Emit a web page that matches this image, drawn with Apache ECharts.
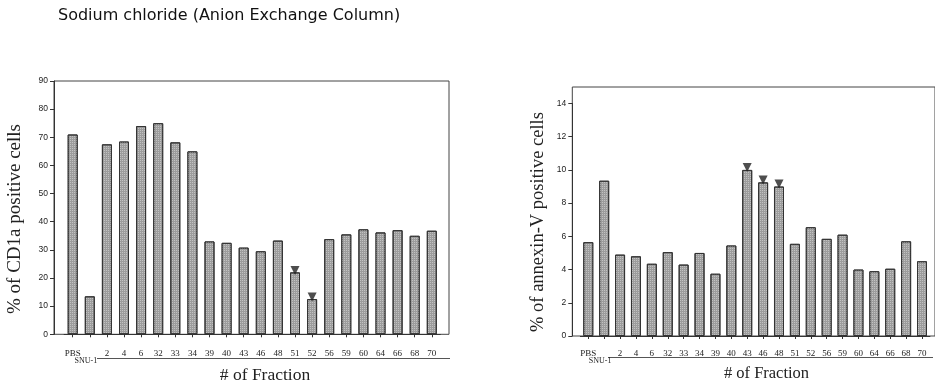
<!DOCTYPE html>
<html>
<head>
<meta charset="utf-8">
<script src="https://cdn.jsdelivr.net/npm/echarts@6/dist/echarts.min.js"></script>
<style>
html,body{margin:0;padding:0;background:#fff;}
#c{width:935px;height:385px;}
</style>
</head>
<body>
<div id="c"></div>
<script>
// ---- data ----
const categories = ['PBS','SNU-1','2','4','6','32','33','34','39','40','43','46','48','51','52','56','59','60','64','66','68','70'];
const cd1aValues = [71,13.5,67.5,68.5,74,75,68.2,65,33,32.5,30.8,29.5,33.3,22,12.5,33.8,35.5,37.3,36.2,37,35,36.8];
const annexinValues = [5.65,9.35,4.9,4.8,4.35,5.05,4.3,5.0,3.75,5.45,10.0,9.25,9.0,5.55,6.55,5.85,6.1,4.0,3.9,4.05,5.7,4.5];
const cd1aMarked = ['51','52'];
const annexinMarked = ['43','46','48'];
const cd1aAxis = {min:0, max:90, interval:10};
const annexinAxis = {min:0, max:14, interval:2};
const titleText = 'Sodium chloride (Anion Exchange Column)';
const cd1aName = '% of CD1a positive cells';
const annexinName = '% of annexin-V positive cells';
const xName = '# of Fraction';

// ---- build ----
const chart = echarts.init(document.getElementById('c'), null, {renderer:'canvas'});
const serif = 'Liberation Serif';
const barStyle = {
  color:'#9c9c9c',
  borderColor:'#333',
  borderWidth:1,
  decal:{symbol:'rect', symbolSize:1, dashArrayX:[1,1], dashArrayY:[1,1], color:'rgba(225,225,225,0.55)', rotation:0}
};
function markerData(values, marked){
  return categories.map((c,i)=> marked.indexOf(c)>=0 ? values[i] : '-');
}
function xAxisCfg(gi, margin){
  return {
    gridIndex:gi, type:'category', data:categories,
    axisLine:{show:true, lineStyle:{color:'#333', width:1}},
    axisTick:{show:true, alignWithLabel:true, length:3, lineStyle:{color:'#333'}},
    axisLabel:{
      margin:margin, fontFamily:serif, fontSize:9, color:'#222', interval:0,
      formatter:function(v){ return v==='SNU-1' ? '{s|'+v+'}' : v; },
      rich:{s:{fontFamily:serif, fontSize:8, color:'#222', padding:[8,8,0,0]}}
    }
  };
}
function yAxisCfg(gi, cfg, offset){
  return {
    gridIndex:gi, type:'value', min:cfg.min, max:cfg.max, interval:cfg.interval, offset:offset,
    splitLine:{show:false},
    axisLine:{show:true, lineStyle:{color:'#333'}},
    axisTick:{show:true, length:4, lineStyle:{color:'#333'}},
    axisLabel:{fontFamily:'Liberation Sans', fontSize:8.5, color:'#222', margin:6}
  };
}
const option = {
  animation:false,
  backgroundColor:'#fff',
  grid:[
    {left:64.15, top:81, width:376.2, height:253.3, show:false},
    {left:54, top:81, width:395, height:253.3, show:true, borderColor:'#444', borderWidth:1, backgroundColor:'transparent'},
    {left:580.35, top:103.5, width:349.6, height:232.5, show:false},
    {left:572.3, top:87, width:364, height:249, show:true, borderColor:'#444', borderWidth:1, backgroundColor:'transparent'}
  ],
  xAxis:[
    xAxisCfg(0, 14.5),
    {gridIndex:1, type:'value', show:false},
    xAxisCfg(2, 12.8),
    {gridIndex:3, type:'value', show:false}
  ],
  yAxis:[
    yAxisCfg(0, cd1aAxis, 10.15),
    {gridIndex:1, type:'value', show:false},
    yAxisCfg(2, annexinAxis, 8.05),
    {gridIndex:3, type:'value', show:false}
  ],
  series:[
    {type:'bar', xAxisIndex:0, yAxisIndex:0, data:cd1aValues, barWidth:10, itemStyle:barStyle},
    {type:'scatter', xAxisIndex:0, yAxisIndex:0, data:markerData(cd1aValues, cd1aMarked),
     symbol:'triangle', symbolRotate:180, symbolSize:[9,9], symbolOffset:[0,-2], itemStyle:{color:'#222'}, z:5},
    {type:'bar', xAxisIndex:2, yAxisIndex:2, data:annexinValues, barWidth:10, itemStyle:barStyle},
    {type:'scatter', xAxisIndex:2, yAxisIndex:2, data:markerData(annexinValues, annexinMarked),
     symbol:'triangle', symbolRotate:180, symbolSize:[9,9], symbolOffset:[0,-2.5], itemStyle:{color:'#222'}, z:5}
  ],
  graphic:[
    {type:'text', left:58, top:8, style:{text:titleText, font:'16px "DejaVu Sans"', fill:'#111'}},
    {type:'text', x:15, y:219, rotation:Math.PI/2,
     style:{text:cd1aName, font:'19px "Liberation Serif"', fill:'#222', align:'center', verticalAlign:'middle'}},
    {type:'text', x:538, y:222, rotation:Math.PI/2,
     style:{text:annexinName, font:'18.5px "Liberation Serif"', fill:'#222', align:'center', verticalAlign:'middle'}},
    {type:'text', x:265, y:375,
     style:{text:xName, font:'17.5px "Liberation Serif"', fill:'#222', align:'center', verticalAlign:'middle'}},
    {type:'text', x:766.5, y:374,
     style:{text:xName, font:'16.5px "Liberation Serif"', fill:'#222', align:'center', verticalAlign:'middle'}},
    {type:'line', shape:{x1:97, y1:358.5, x2:450, y2:358.5}, style:{stroke:'#555', lineWidth:1}},
    {type:'line', shape:{x1:608, y1:357.5, x2:933, y2:357.5}, style:{stroke:'#555', lineWidth:1}}
  ]
};
chart.setOption(option);
</script>
</body>
</html>
